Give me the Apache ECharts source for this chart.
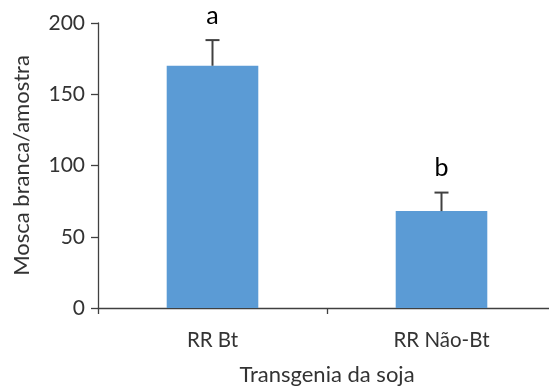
<!DOCTYPE html>
<html><head><meta charset="utf-8">
<script src="https://cdn.jsdelivr.net/npm/echarts@6/dist/echarts.min.js"></script>
<style>html,body{margin:0;padding:0;background:#fff}#c{width:549px;height:387px}</style>
</head><body><div id="c"></div>
<script>
var categories = ['RR Bt', 'RR Não-Bt'];
var means = [170, 68];
var errorTops = [188, 81];
var letters = ['a', 'b'];
var yTicks = [0, 50, 100, 150, 200];

var FONT = 'Lato';
var TXT = '#333333';
var AX = '#404040';

var chart = echarts.init(document.getElementById('c'), null, {renderer: 'canvas'});
chart.setOption({
  animation: false,
  grid: {left: 98, top: 23, bottom: 79, right: -7, outerBoundsMode: 'none', containLabel: false},
  xAxis: {
    type: 'category', data: categories, boundaryGap: true,
    name: 'Transgenia da soja', nameLocation: 'middle', nameGap: 56,
    nameTextStyle: {fontFamily: FONT, fontSize: 22, color: TXT},
    axisLine: {lineStyle: {color: AX, width: 1.3}},
    axisTick: {show: true, length: 6, lineStyle: {color: AX, width: 1.3}},
    axisLabel: {fontFamily: FONT, fontSize: 20.5, color: TXT, margin: 22}
  },
  yAxis: {
    type: 'value', min: yTicks[0], max: yTicks[yTicks.length - 1], interval: 50,
    name: 'Mosca branca/amostra', nameLocation: 'middle', nameGap: 65,
    nameTextStyle: {fontFamily: FONT, fontSize: 22, color: TXT},
    axisLine: {show: true, lineStyle: {color: AX, width: 1.3}},
    axisTick: {show: true, length: 7, lineStyle: {color: AX, width: 1.3}},
    axisLabel: {fontFamily: FONT, fontSize: 21, color: TXT, margin: 13},
    splitLine: {show: false}
  },
  series: [{
    type: 'bar', data: means, barWidth: '40%',
    itemStyle: {color: '#5B9BD5'}
  }, {
    type: 'custom',
    data: categories.map(function (c, i) { return [i, means[i], errorTops[i]]; }),
    renderItem: function (params, api) {
      var i = api.value(0);
      var p0 = api.coord([i, api.value(1)]);
      var p1 = api.coord([i, api.value(2)]);
      var hw = 7;
      var st = {stroke: '#404040', lineWidth: 2};
      return {type: 'group', children: [
        {type: 'line', shape: {x1: p0[0], y1: p0[1], x2: p1[0], y2: p1[1]}, style: st},
        {type: 'line', shape: {x1: p1[0] - hw, y1: p1[1], x2: p1[0] + hw, y2: p1[1]}, style: st},
        {type: 'text', x: p1[0], y: p1[1] - 12, style: {text: letters[params.dataIndex], fontFamily: FONT, fontSize: 25, fill: '#000', align: 'center', verticalAlign: 'bottom'}}
      ]};
    },
    z: 3
  }]
});
</script></body></html>
